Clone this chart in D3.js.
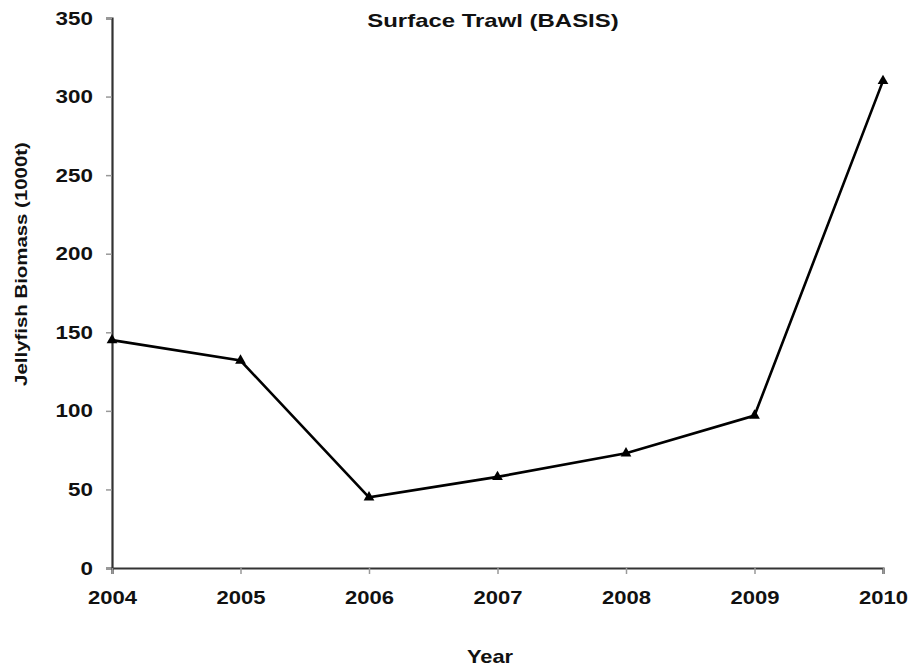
<!DOCTYPE html>
<html>
<head>
<meta charset="utf-8">
<script src="https://cdn.jsdelivr.net/npm/d3@7"></script>
<style>
  html, body { margin: 0; padding: 0; background: #fff; }
  svg text { font-family: "Liberation Sans", Arial, sans-serif; font-weight: bold; fill: #111; }
</style>
</head>
<body>
<svg id="chart" width="910" height="667"></svg>
<script>
// Jellyfish biomass from the BASIS surface trawl survey
const years = [2004, 2005, 2006, 2007, 2008, 2009, 2010];
const biomass = [145, 132, 45, 58, 73, 97, 310];
const yTicks = [0, 50, 100, 150, 200, 250, 300, 350];

const svg = d3.select("#chart");
const margin = { left: 112, right: 27, top: 18, bottom: 99 };
const W = 910, H = 667;

// Widen text horizontally (the chart uses a broad bold face)
function widen(sel, factor) {
  sel.each(function () {
    const len = this.getComputedTextLength();
    d3.select(this).attr("textLength", len * factor).attr("lengthAdjust", "spacingAndGlyphs");
  });
}

const x = d3.scaleLinear().domain([2004, 2010]).range([margin.left, W - margin.right]);
const y = d3.scaleLinear().domain([0, 350]).range([H - margin.bottom, margin.top]);

// Y axis
const yAxis = svg.append("g")
  .attr("transform", `translate(${margin.left},0)`)
  .call(d3.axisLeft(y).tickValues(yTicks).tickSize(6).tickPadding(13).tickFormat(d3.format("d")));
yAxis.select(".domain").attr("stroke", "#333").attr("stroke-width", 2.2);
yAxis.selectAll(".tick line").attr("stroke", "#999").attr("stroke-width", 1.5);
yAxis.selectAll(".tick text").attr("font-size", 19).attr("fill", "#111").call(widen, 1.18);

// X axis
const xAxis = svg.append("g")
  .attr("transform", `translate(0,${H - margin.bottom})`)
  .call(d3.axisBottom(x).tickValues(years).tickSize(6).tickPadding(17).tickFormat(d3.format("d")));
xAxis.select(".domain").attr("stroke", "#333").attr("stroke-width", 2.2);
xAxis.selectAll(".tick line").attr("stroke", "#999").attr("stroke-width", 1.5);
xAxis.selectAll(".tick text").attr("font-size", 19).attr("fill", "#111").call(widen, 1.16);

// Series line
const points = years.map((yr, i) => ({ yr, v: biomass[i] }));
svg.append("path")
  .datum(points)
  .attr("fill", "none")
  .attr("stroke", "#000")
  .attr("stroke-width", 2.6)
  .attr("d", d3.line().x(d => x(d.yr)).y(d => y(d.v)));

// Triangle markers
svg.append("g").selectAll("path")
  .data(points)
  .join("path")
  .attr("transform", d => `translate(${x(d.yr)},${y(d.v)})`)
  .attr("d", d3.symbol(d3.symbolTriangle, 50))
  .attr("fill", "#000");

// Titles
svg.append("text")
  .attr("x", 493).attr("y", 27)
  .attr("text-anchor", "middle")
  .attr("font-size", 19)
  .text("Surface Trawl (BASIS)")
  .call(widen, 1.26);

svg.append("text")
  .attr("transform", "translate(27,264) rotate(-90)")
  .attr("text-anchor", "middle")
  .attr("font-size", 17)
  .text("Jellyfish Biomass (1000t)")
  .call(widen, 1.2);

svg.append("text")
  .attr("x", 490).attr("y", 663)
  .attr("text-anchor", "middle")
  .attr("font-size", 19)
  .text("Year")
  .call(widen, 1.15);
</script>
</body>
</html>
